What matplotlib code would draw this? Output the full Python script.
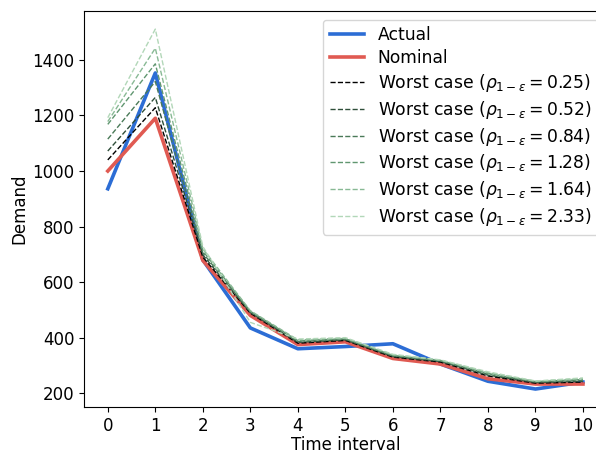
import matplotlib.pyplot as plt
import numpy as np

t = np.arange(11)
actual = [936, 1353, 680, 435, 360, 368, 378, 305, 243, 215, 240]
nominal = [1000, 1190, 678, 480, 375, 385, 325, 305, 252, 233, 233]

rhos = ['0.25', '0.52', '0.84', '1.28', '1.64', '2.33']
worst = [
    [1040, 1228, 690, 488, 380, 390, 330, 312, 262, 236, 240],
    [1072, 1265, 698, 490, 383, 392, 332, 314, 265, 238, 243],
    [1115, 1322, 705, 493, 386, 394, 334, 316, 268, 240, 246],
    [1168, 1386, 712, 495, 389, 396, 336, 318, 271, 242, 249],
    [1178, 1442, 720, 497, 392, 398, 338, 319, 274, 243, 252],
    [1192, 1511, 728, 455, 395, 400, 340, 320, 277, 244, 255],
]
worst_colors = ['#000000', '#2f4f3a', '#4a7a58', '#609670', '#88b994', '#b2d7b8']

plt.rcParams['font.size'] = 12
fig = plt.figure(figsize=(5.96, 4.53), dpi=100)
ax = fig.add_axes([0.141, 0.1015, 0.877, 0.874])

ax.plot(t, actual, color='#2c6dd5', linewidth=2.6, label='Actual')
ax.plot(t, nominal, color='#e05a52', linewidth=2.6, label='Nominal')
for r, w, c in zip(rhos, worst, worst_colors):
    ax.plot(t, w, color=c, linestyle='--', linewidth=1.0,
            label=r'Worst case ($\rho_{1-\varepsilon} = %s$)' % r)

ax.set_xticks(t)
ax.set_xlabel('Time interval', labelpad=1)
ax.set_ylabel('Demand', labelpad=3)
ax.legend(loc='upper right', labelspacing=0.28, fontsize=12.3)

fig.savefig('out.png', dpi=100)
